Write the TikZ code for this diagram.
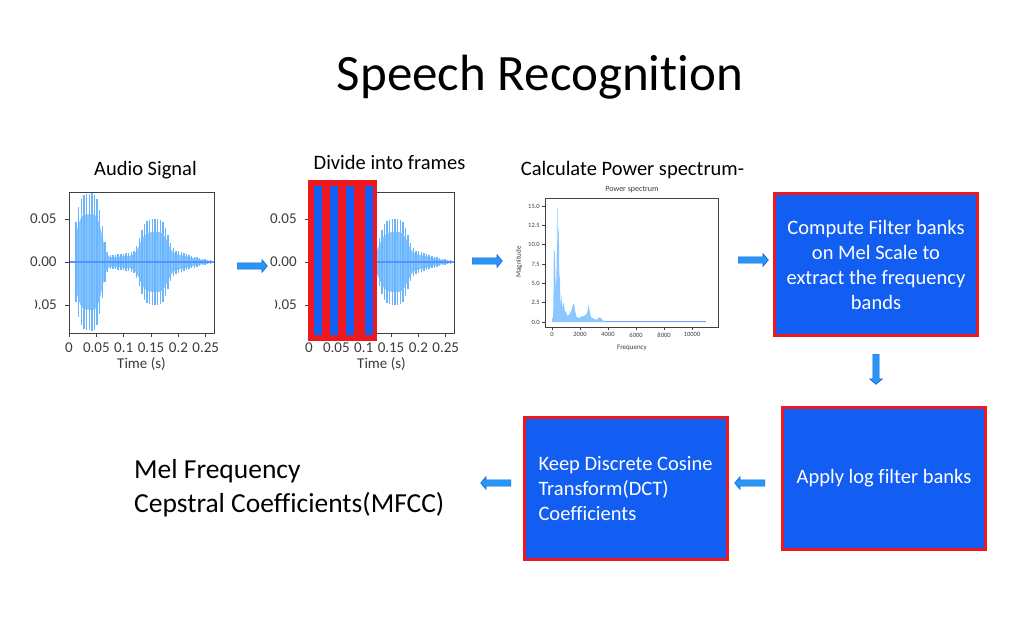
\documentclass[tikz,border=0pt]{standalone}
\usepackage{fontspec}
\setmainfont{Carlito}[Ligatures=NoCommon]
\usetikzlibrary{shapes.arrows,positioning,calc}

\definecolor{wave}{RGB}{105,182,255}
\definecolor{specfill}{RGB}{140,200,255}
\definecolor{boxblue}{RGB}{18,94,242}
\definecolor{boxred}{RGB}{238,24,32}
\definecolor{arrowblue}{RGB}{40,150,245}
\definecolor{arrowedge}{RGB}{20,100,225}
\definecolor{ticktext}{RGB}{60,60,60}

\tikzset{
    stepbox/.style={draw=boxred, line width=3pt, fill=boxblue, text=white,
        minimum width=203pt, minimum height=142pt, inner sep=0pt,
        font=\fontsize{20.5}{25}\selectfont, align=center},
    blockarrow/.style={single arrow, fill=arrowblue, draw=arrowedge, line width=0.6pt,
        minimum height=30pt, inner sep=2.8pt, single arrow head extend=3.2pt,
        single arrow head indent=0pt, single arrow tip angle=100},
    plotframe/.style={draw=black!75, line width=0.9pt, inner sep=0pt},
    plotaxis/.style={draw=black!75, line width=0.8pt},
    ticklabel/.style={text=ticktext, font=\fontsize{15}{15}\selectfont, inner sep=0pt},
    spectick/.style={text=ticktext, font=\fontsize{6.5}{7}\selectfont, inner sep=0pt},
    caption/.style={font=\fontsize{20.5}{24}\selectfont, anchor=base, inner sep=0pt},
}

\newcommand{\audioplot}[2]{%
    \begin{scope}[shift={(#2,262)}, x=547pt, y=860pt]
        \fill[wave!80] plot[domain=0.013:0.264, samples=100] (\x,{0.7*env(\x)})
            -- plot[domain=0.264:0.013, samples=100] (\x,{-0.7*env(\x)}) -- cycle;
        \foreach \t in {0.013,0.0178,...,0.263}
            \draw[wave, line width=1.4pt] (\t,{env(\t)}) -- (\t,{-env(\t)});
        \draw[wave!80!blue, line width=1.2pt] (0,0) -- (0.264,0);
        \foreach \t/\l in {0/0,0.05/0.05,0.1/0.1,0.15/0.15,0.2/0.2,0.25/0.25}
            \draw[plotaxis] (\t,-0.0826) -- ++(0,-4pt) node[ticklabel, below=5pt] {\l};
        \foreach \a/\l in {0.05/0.05,0/0.00}
            \draw[plotaxis] (0,\a) -- ++(-4pt,0) node[ticklabel, left=8pt] {\l};
        \draw[plotaxis] (0,-0.05) -- ++(-4pt,0);
    \end{scope}
    \node[plotframe, minimum width=145pt, minimum height=141pt, anchor=north west] (#1) at (#2,192) {};
    \begin{scope}
        \clip (#2-34,295) rectangle (#2,315);
        \node[ticklabel, anchor=east] at (#2-12,305) {−0.05};
    \end{scope}
    \node[ticklabel, anchor=north] at (#2+72.5,357) {Time (s)};
}

\begin{document}
\begin{tikzpicture}[x=1pt, y=-1pt,
    declare function={env(\s)=(\s>0.012)*(0.076*exp(-min(((\s-0.036)/0.027)^4,30))
        +0.036*exp(-min(((\s-0.155)/0.028)^4,30))
        +0.009*exp(-min(((\s-0.19)/0.05)^2,30))
        +0.01*exp(-min(((\s-0.12)/0.08)^2,30)));}]
    \fill[white] (0,0) rectangle (1024,640);
    \useasboundingbox (0,0) rectangle (1024,640);

    \node[font=\fontsize{51}{60}\selectfont, anchor=base, inner sep=0pt] (title) at (540,90) {Speech Recognition};

    \node[caption] (sigtitle) at (145.5,175) {Audio Signal};
    \node[caption] (frametitle) at (389.5,169) {Divide into frames};
    \node[caption] (spectitle) at (632.5,175) {Calculate Power spectrum-};

    \audioplot{signal}{69}
    \audioplot{frames}{309}
    \fill[boxred] (308,180) rectangle (377,341);
    \foreach \l in {314,329.5,346,364.5}
        \fill[boxblue] (\l,186) rectangle ++(8,149);

    \begin{scope}[shift={(552,322)}, x=0.014pt, y=7.73pt]
        \fill[specfill] plot coordinates {(0,0) (0,0.4) (60,0.6) (100,2) (130,9.3) (170,9.0)
            (210,9.2) (240,3) (280,7) (320,4) (360,14) (390,15.2) (420,8) (450,12.2) (490,12)
            (520,6) (560,5.8) (600,3) (640,2.2) (680,3.5) (720,1.6) (780,2.5) (850,2.4)
            (900,1.5) (1000,1.3) (1100,0.8) (1250,1.0) (1400,1.6) (1500,2.3) (1580,2.4)
            (1650,1.4) (1750,0.7) (1900,0.5) (2100,0.7) (2300,0.8) (2500,1.1) (2620,2.3)
            (2700,1.3) (2800,0.6) (3000,0.4) (3200,0.3) (3350,0.6) (3500,0.5) (3650,0.2)
            (3800,0.1) (4000,0.06) (11000,0.06) (11000,0)} -- cycle;
        \draw[specfill!80!blue, line width=0.8pt] (3800,0.08) -- (11000,0.08);
        \foreach \m/\l in {0/0.0,2.5/2.5,5/5.0,7.5/7.5,10/10.0,12.5/12.5,15/15.0}
            \draw[plotaxis, line width=0.5pt] (-500,\m) -- ++(-3pt,0) node[spectick, left=2pt] {\l};
        \foreach \f in {0,2000,...,10000}
            \draw[plotaxis, line width=0.5pt] (\f,-0.647) -- ++(0,-3pt) node[spectick, below=2.5pt] {\f};
    \end{scope}
    \node[plotframe, line width=0.6pt, minimum width=173pt, minimum height=129pt, anchor=north west] (spectrum) at (545,198) {};
    \node[spectick, font=\fontsize{8}{9}\selectfont] (spechead) at (632,190) {Power spectrum};
    \node[spectick, font=\fontsize{7}{8}\selectfont] (specx) at (632,348) {Frequency};
    \node[spectick, font=\fontsize{7}{8}\selectfont, rotate=90] (specy) at (519,262) {Magnitude};

    \node[stepbox] (melbank) at (876,264.5) {Compute Filter banks\\on Mel Scale to\\extract the frequency\\bands};
    \node[stepbox] (logbank) at (884,478.5) {Apply log filter banks};
    \node[stepbox, align=left] (dct) at (625.5,488.5) {Keep Discrete Cosine\\Transform(DCT)\\Coefficients};
    \node[font=\fontsize{27.5}{34}\selectfont, align=left, anchor=west, inner sep=0pt] (mfcc) at (134,488) {Mel Frequency\\Cepstral Coefficients(MFCC)};

    \node[blockarrow] (a1) at (251,266) {};
    \node[blockarrow] (a2) at (486,261) {};
    \node[blockarrow] (a3) at (752,260) {};
    \node[blockarrow, shape border rotate=270] (a4) at (876,368) {};
    \node[blockarrow, shape border rotate=180] (a5) at (751,483) {};
    \node[blockarrow, shape border rotate=180] (a6) at (497,483) {};
\end{tikzpicture}
\end{document}
